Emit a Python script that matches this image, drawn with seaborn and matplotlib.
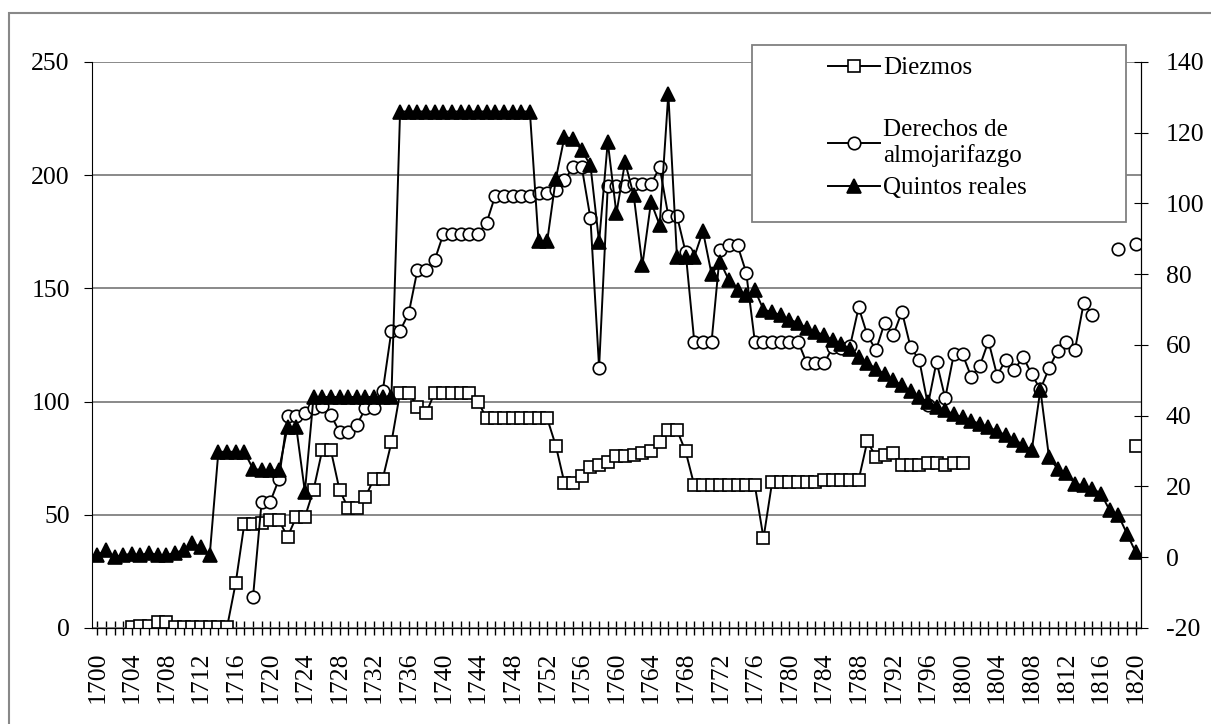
import numpy as np
import pandas as pd
import seaborn as sns
import matplotlib.pyplot as plt
from matplotlib.lines import Line2D
from matplotlib.patches import Rectangle
from matplotlib.ticker import MultipleLocator

plt.rcParams['font.family'] = ['Liberation Serif', 'DejaVu Serif']
plt.rcParams['font.size'] = 18
plt.rcParams['axes.unicode_minus'] = False

nan = np.nan
anios = list(range(1700, 1821))

# Diezmos (eje izquierdo)
diezmos = [
    nan, nan, nan, nan, 0.6, 0.8, 0.8, 2.8, 2.8, 0.3,          # 1700-1709
    0.3, 0.3, 0.3, 0.3, 0.3, 0.3, 19.8, 46, 46, 46.5,          # 1710-1719
    47.5, 47.5, 40.3, 49, 49, 61, 78.5, 78.5, 61, 53,          # 1720-1729
    53, 58, 66, 66, 82, 104, 104, 97.8, 94.8, 104,             # 1730-1739
    104, 104, 104, 104, 100, 92.6, 92.6, 92.6, 92.6, 92.6,     # 1740-1749
    92.6, 92.6, 92.6, 80.5, 64, 64, 67, 71, 72, 73.5,          # 1750-1759
    76, 76, 76.5, 77.5, 78, 82, 87.4, 87.4, 78, 63,            # 1760-1769
    63, 63, 63, 63, 63, 63, 63, 39.7, 64.5, 64.5,              # 1770-1779
    64.5, 64.5, 64.5, 64.5, 65.5, 65.5, 65.5, 65.5, 65.5, 82.5,  # 1780-1789
    75.5, 76.5, 77.5, 72, 72, 72, 73, 73, 72, 73,              # 1790-1799
    73, nan, nan, nan, nan, nan, nan, nan, nan, nan,           # 1800-1809
    nan, nan, nan, nan, nan, nan, nan, nan, nan, nan,          # 1810-1819
    80.5,                                                      # 1820
]

# Derechos de almojarifazgo (eje izquierdo)
derechos = [
    nan, nan, nan, nan, nan, nan, nan, nan, nan, nan,          # 1700-1709
    nan, nan, nan, nan, nan, nan, nan, nan, 13.5, 55.8,        # 1710-1719
    55.8, 65.7, 93.6, 93.6, 94.8, 97.3, 98, 94, 86.7, 86.7,    # 1720-1729
    89.7, 97, 97, 104.7, 131.3, 131.3, 139, 158, 158, 162.5,   # 1730-1739
    174, 174, 174, 174, 174, 179, 191, 191, 191, 191,          # 1740-1749
    191, 192, 192, 193.5, 198, 203.5, 203.5, 181, 115, 195,    # 1750-1759
    195, 195, 196, 196, 196, 203.5, 182, 182, 166, 126.5,      # 1760-1769
    126.5, 126.5, 167, 169, 169, 157, 126.5, 126.5, 126.5, 126.5,  # 1770-1779
    126.5, 126.5, 117, 117, 117, 124, 123.5, 124.5, 141.6, 129.4,  # 1780-1789
    122.7, 134.8, 129.4, 139.7, 124, 118.4, 98.5, 117.6, 101.5, 121,  # 1790-1799
    121, 111, 115.7, 126.7, 111.5, 118.5, 114, 119.8, 112, 105.4,  # 1800-1809
    114.7, 122.5, 126.5, 123, 143.4, 138.3, nan, nan, 167.2, nan,  # 1810-1819
    169.6,                                                     # 1820
]

# Quintos reales (eje derecho)
quintos = [
    0.6, 2, 0.1, 0.6, 1, 0.6, 1.3, 0.6, 0.6, 1.3,              # 1700-1709
    2, 3.9, 2.9, 0.6, 29.8, 29.8, 29.8, 29.8, 25, 24.6,        # 1710-1719
    24.6, 24.6, 36.8, 36.8, 18.5, 45.3, 45.3, 45.3, 45.3, 45.3,  # 1720-1729
    45.3, 45.3, 45.3, 45.3, 45.3, 126, 126, 126, 126, 126,     # 1730-1739
    126, 126, 126, 126, 126, 126, 126, 126, 126, 126,          # 1740-1749
    126, 89.3, 89.3, 107, 118.8, 118.3, 115, 110.8, 89.1, 117.4,  # 1750-1759
    97.2, 111.7, 102.3, 82.5, 100.4, 93.9, 131, 84.9, 84.9, 84.9,  # 1760-1769
    92.2, 80, 83.5, 78.3, 75.5, 74, 75.5, 70.0, 69.3, 68.4,    # 1770-1779
    67.2, 66.2, 64.8, 63.7, 62.8, 61.3, 60.2, 59.0, 56.5, 55.0,  # 1780-1789
    53.2, 51.8, 50.0, 48.6, 47.0, 45.3, 43.8, 42.6, 41.5, 40.4,  # 1790-1799
    39.6, 38.6, 37.7, 36.8, 35.6, 34.5, 33.2, 31.8, 30.2, 47.4,  # 1800-1809
    28.2, 25.0, 23.7, 20.8, 20.3, 19.4, 18.0, 13.3, 11.9, 6.7,   # 1810-1819
    1.5,                                                       # 1820
]

assert len(diezmos) == len(derechos) == len(quintos) == len(anios)


def tramos(valores):
    df = pd.DataFrame({'anio': anios, 'valor': valores})
    df['tramo'] = df['valor'].isna().cumsum()
    return df.dropna()


fig = plt.figure(figsize=(12.11, 7.24), dpi=100)
ax = fig.add_axes([0.076, 0.1326, 0.866, 0.7818])
ax2 = ax.twinx()

estilo = dict(color='black', linewidth=1.4, markeredgecolor='black',
              markeredgewidth=1.2, estimator=None, units='tramo', x='anio', y='valor')

sns.lineplot(data=tramos(diezmos), ax=ax, marker='s', markersize=8.5,
             markerfacecolor='white', **estilo)
sns.lineplot(data=tramos(derechos), ax=ax, marker='o', markersize=9,
             markerfacecolor='white', **estilo)
sns.lineplot(data=tramos(quintos), ax=ax2, marker='^', markersize=10,
             markerfacecolor='black', **estilo)

ax.set_xlim(1699.4, 1820.6)
ax.set_ylim(0, 250)
ax.set_yticks(range(0, 251, 50))
ax2.set_ylim(-20, 140)
ax2.set_yticks(range(-20, 141, 20))

ax.set_xticks(range(1700, 1821, 4))
ax.xaxis.set_minor_locator(MultipleLocator(1))
ax.tick_params(axis='x', which='both', direction='inout', length=10, width=1,
               labelrotation=90, labelsize=18.5, pad=12)
ax.tick_params(axis='y', direction='out', length=6, pad=10, labelsize=18.5)
ax2.tick_params(axis='y', direction='inout', length=10, pad=13, labelsize=18.5)

ax.grid(axis='y', color='#808080', linewidth=1.3)
ax.set_axisbelow(True)
for a in (ax, ax2):
    a.spines['top'].set_visible(False)
    a.set_xlabel('')
    a.set_ylabel('')
ax2.spines['left'].set_visible(False)

# marco exterior (cortado a la derecha y abajo)
fig.add_artist(Rectangle((0.0075, -0.1), 1.1, 1.0825, transform=fig.transFigure,
                         fill=False, edgecolor='#888888', linewidth=1.5))

# leyenda
fig.add_artist(Rectangle((0.621, 0.6934), 0.3085, 0.2444, transform=fig.transFigure,
                         facecolor='white', edgecolor='#808080', linewidth=1.3, zorder=4))

manejadores = [
    Line2D([], [], color='black', lw=1.4, marker='s', ms=8.5, mfc='white', mec='black', mew=1.2),
    Line2D([], [], color='black', lw=1.4, marker='o', ms=9, mfc='white', mec='black', mew=1.2),
    Line2D([], [], color='black', lw=1.4, marker='^', ms=10, mfc='black', mec='black', mew=1.2),
]
etiquetas = ['Diezmos', 'Derechos de\nalmojarifazgo', 'Quintos reales']
alturas = [0.906, 0.8025, 0.740]

for h, lab, yc in zip(manejadores, etiquetas, alturas):
    leg = fig.legend(handles=[h], labels=[lab], loc='center left',
                     bbox_to_anchor=(0.6837, yc), frameon=False, borderpad=0,
                     borderaxespad=0, handlelength=2.1, handletextpad=0.1,
                     fontsize=18)
    leg.set_zorder(6)

fig.savefig('out.png', dpi=100)
